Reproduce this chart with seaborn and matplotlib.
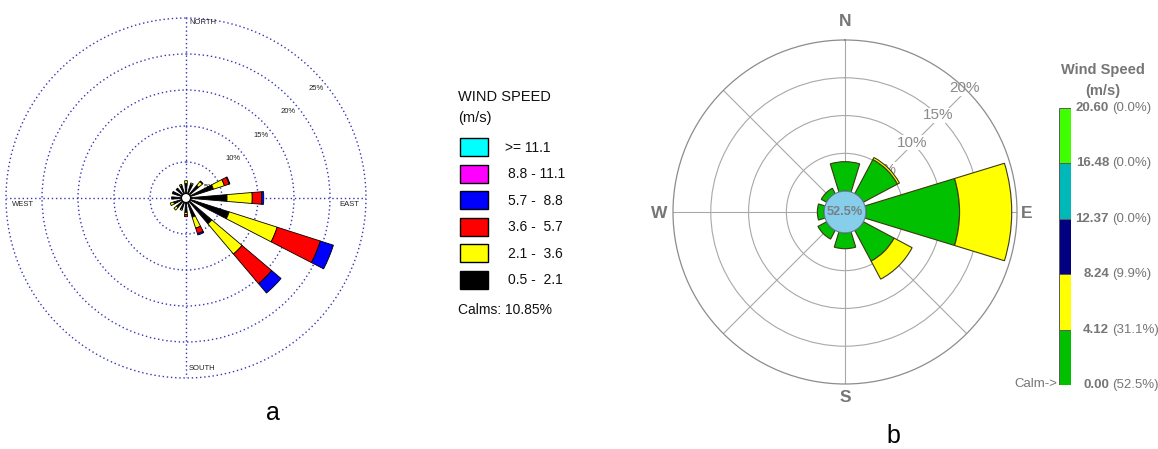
import numpy as np
import matplotlib
matplotlib.use("Agg")
import matplotlib.pyplot as plt
from matplotlib.patches import Rectangle, Circle
import seaborn as sns

sns.set_theme(style="white")
plt.rcParams["font.family"] = ["Liberation Sans", "DejaVu Sans"]

W, H = 1158, 449

# ---------------- rose (a): 16 sectors, % frequency per speed class ----------------
a_dirs = ["N", "NNE", "NE", "ENE", "E", "ESE", "SE", "SSE",
          "S", "SSW", "SW", "WSW", "W", "WNW", "NW", "NNW"]
a_0_5_2_1 = [2.0, 2.0, 2.3, 4.0, 5.7, 6.3, 4.7, 2.8, 2.0, 1.6, 1.7, 1.8, 2.0, 2.0, 1.8, 1.8]
a_2_1_3_6 = [0.4, 0.2, 0.7, 1.6, 3.5, 7.0, 5.5, 1.6, 0.3, 0.2, 0.5, 0.5, 0.0, 0.0, 0.0, 0.2]
a_3_6_5_7 = [0.0, 0.0, 0.1, 0.7, 1.3, 6.3, 5.4, 0.8, 0.3, 0.0, 0.0, 0.0, 0.0, 0.0, 0.0, 0.0]
a_5_7_8_8 = [0.0, 0.0, 0.0, 0.1, 0.3, 1.9, 1.7, 0.2, 0.0, 0.0, 0.0, 0.0, 0.0, 0.0, 0.0, 0.0]
a_8_8_11_1 = [0.0] * 16
a_ge_11_1 = [0.0] * 16
a_classes = ["0.5 -  2.1", "2.1 -  3.6", "3.6 -  5.7", "5.7 -  8.8", "8.8 - 11.1", ">= 11.1"]
a_colors = ["#000000", "#ffff00", "#ff0000", "#0000ff", "#ff00ff", "#00ffff"]
a_calms = 10.85
a_rings = [5, 10, 15, 20, 25]

# ---------------- rose (b): 8 sectors ----------------
b_dirs = ["N", "NE", "E", "SE", "S", "SW", "W", "NW"]
b_0_00_4_12 = [3.9, 5.1, 12.4, 4.6, 2.1, 1.3, 0.9, 0.8]
b_4_12_8_24 = [0.0, 0.3, 6.9, 2.7, 0.0, 0.0, 0.0, 0.0]
b_bounds = ["0.00", "4.12", "8.24", "12.37", "16.48", "20.60"]
b_pcts = [52.5, 31.1, 9.9, 0.0, 0.0, 0.0]
b_colors = sns.color_palette(["#00c000", "#ffff00", "#000080", "#00b8b8", "#40ff00"])
b_calm = 52.5
b_rings = [5, 10, 15, 20]

GRAY = "#767676"
NAVY = "#3535b5"
DOTS = (0, (1, 2))

fig = plt.figure(figsize=(W / 100, H / 100), dpi=100)


def circle_rect(cx, cy, r):
    return [(cx - r) / W, (H - cy - r) / H, 2 * r / W, 2 * r / H]


def fx(x):
    return x / W


def fy(y):
    return 1 - y / H


# ======================= rose (a) =======================
axa = fig.add_axes(circle_rect(186, 198, 180), projection="polar")
axa.set_theta_zero_location("N")
axa.set_theta_direction(-1)
th16 = np.deg2rad(np.arange(len(a_dirs)) * 22.5)
base = np.zeros(len(a_dirs))
for vals, col in zip([a_0_5_2_1, a_2_1_3_6, a_3_6_5_7, a_5_7_8_8, a_8_8_11_1, a_ge_11_1], a_colors):
    v = np.asarray(vals)
    m = v > 0
    if m.any():
        axa.bar(th16[m], v[m], width=np.deg2rad(9.5), bottom=base[m], color=col,
                edgecolor="black", linewidth=0.6, zorder=3)
    base += v
axa.set_ylim(0, a_rings[-1])
axa.set_rgrids(a_rings[:-1], labels=[""] * (len(a_rings) - 1))
axa.set_thetagrids([0, 90, 180, 270], labels=[""] * 4)
axa.grid(True, color=NAVY, linestyle=DOTS, linewidth=1.0)
axa.spines["polar"].set_visible(False)
ring_t = np.linspace(0, 2 * np.pi, 721)
axa.plot(ring_t, np.full_like(ring_t, a_rings[-1]), color=NAVY, linestyle=DOTS,
         linewidth=1.0, clip_on=False, zorder=1)
axa.add_patch(Circle((0.5, 0.5), 4.5 / 360, transform=axa.transAxes, facecolor="white",
                     edgecolor="black", linewidth=0.8, zorder=5))
for i, rv in enumerate(a_rings):
    ang = 65 if i == 0 else 50
    axa.text(np.deg2rad(ang), rv - 1.4, f"{rv}%", fontsize=5.5, ha="center", va="center",
             color="#222222", zorder=2)

for txt, x, y in [("NORTH", 189, 23), ("SOUTH", 189, 369), ("WEST", 12, 205), ("EAST", 339, 205)]:
    fig.text(fx(x), fy(y), txt, fontsize=5.5, ha="left", va="center", color="#222222")

# legend for (a)
ov = fig.add_axes([0, 0, 1, 1])
ov.set_xlim(0, W)
ov.set_ylim(H, 0)
ov.axis("off")
ov.text(458, 97, "WIND SPEED", fontsize=10.5, va="center", ha="left", color="#111111")
ov.text(458, 118, "(m/s)", fontsize=10.5, va="center", ha="left", color="#111111")
for i, (lab, col) in enumerate(zip(a_classes[::-1], a_colors[::-1])):
    top = 138 + i * 26.6
    ov.add_patch(Rectangle((460, top), 28, 18, facecolor=col, edgecolor="black", linewidth=1.0))
    ov.text(505 if lab.startswith(">") else 508, top + 9.5, lab, fontsize=10, va="center",
            ha="left", color="#111111")
ov.text(458, 310, f"Calms: {a_calms:.2f}%", fontsize=10, va="center", ha="left", color="#111111")
ov.text(273, 413, "a", fontsize=18, ha="center", va="center", color="black")

# ======================= rose (b) =======================
OFF = 2.76  # radius of the calm disc, in % units
axb = fig.add_axes(circle_rect(845, 212, 172), projection="polar")
axb.set_theta_zero_location("N")
axb.set_theta_direction(-1)
th8 = np.deg2rad(np.arange(len(b_dirs)) * 45)
base = np.full(len(b_dirs), OFF)
for vals, col in zip([b_0_00_4_12, b_4_12_8_24], b_colors[:2]):
    v = np.asarray(vals)
    m = v > 0
    axb.bar(th8[m], v[m], width=np.deg2rad(34), bottom=base[m], color=col,
            edgecolor="#3a3a10", linewidth=0.8, zorder=3)
    base += v
axb.set_ylim(0, OFF + b_rings[-1])
axb.set_rgrids([OFF + r for r in b_rings[:-1]], labels=[""] * (len(b_rings) - 1))
axb.set_thetagrids(np.arange(0, 360, 45), labels=[""] * 8)
axb.grid(True, color="#a8a8a8", linewidth=0.8)
axb.spines["polar"].set(color="#8c8c8c", linewidth=0.9)
for rv in b_rings:
    axb.text(np.deg2rad(44), OFF + rv, f"{rv}%", fontsize=11, color="#8a8a8a",
             ha="center", va="center", zorder=2,
             bbox=dict(facecolor="white", edgecolor="none", pad=0.5))
axb.add_patch(Circle((0.5, 0.5), 0.5 * OFF / (OFF + b_rings[-1]), transform=axb.transAxes,
                     facecolor="#87ceeb", edgecolor="#5f8090", linewidth=0.8, zorder=5))
axb.text(0, 0, f"{b_calm}%", fontsize=9.2, fontweight="bold", color="#778088",
         ha="center", va="center", zorder=6)

for txt, x, y in [("N", 845, 22), ("S", 845, 397), ("E", 1027, 213), ("W", 659, 213)]:
    fig.text(fx(x), fy(y), txt, fontsize=12.5, fontweight="bold", color=GRAY,
             ha="center", va="center")

# colour scale for (b)
cb_top, cb_bot = 108, 385
cbax = fig.add_axes([fx(1059), fy(cb_bot), 12 / W, (cb_bot - cb_top) / H])
nseg = len(b_bounds) - 1
for i in range(nseg):
    cbax.bar(0, 1, bottom=i, width=1, color=b_colors[i], edgecolor="#5a5a5a", linewidth=0.7)
cbax.set_xlim(-0.5, 0.5)
cbax.set_ylim(0, nseg)
cbax.axis("off")
seg = (cb_bot - cb_top) / nseg
for i, (bnd, pc) in enumerate(zip(b_bounds, b_pcts)):
    y = cb_bot - i * seg
    ov.text(1109, y, bnd, fontsize=9.5, fontweight="bold", color=GRAY, ha="right", va="center")
    ov.text(1112, y, f"({pc:.1f}%)", fontsize=9.5, color=GRAY, ha="left", va="center")
ov.text(1057, 384, "Calm->", fontsize=9.5, color=GRAY, ha="right", va="center")
ov.text(1103, 70, "Wind Speed", fontsize=10.5, fontweight="bold", color=GRAY, ha="center", va="center")
ov.text(1103, 91, "(m/s)", fontsize=10.5, fontweight="bold", color=GRAY, ha="center", va="center")
ov.text(893, 436, "b", fontsize=18, ha="center", va="center", color="black")

fig.savefig("out.png", dpi=100)
